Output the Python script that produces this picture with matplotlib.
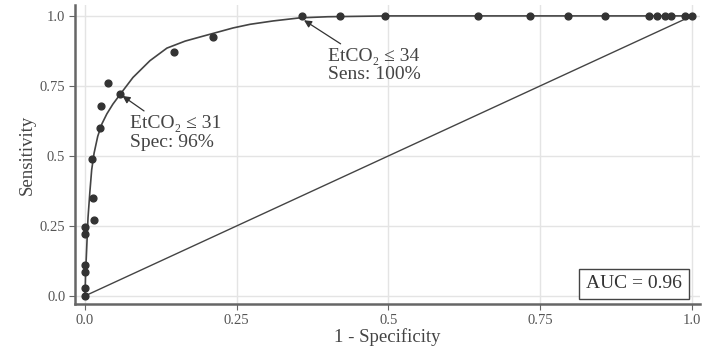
import matplotlib
matplotlib.use("Agg")
import matplotlib.pyplot as plt

plt.rcParams['font.family'] = ['Liberation Serif', 'DejaVu Serif']

# observed operating points (1 - specificity, sensitivity)
fpr_pts = [0.0, 0.0, 0.0, 0.0, 0.0, 0.0, 0.015, 0.013, 0.012, 0.025, 0.026,
           0.038, 0.058, 0.147, 0.211, 0.357, 0.42, 0.494, 0.647, 0.733,
           0.796, 0.857, 0.93, 0.942, 0.955, 0.965, 0.988, 1.0]
tpr_pts = [0.0, 0.03, 0.085, 0.11, 0.22, 0.245, 0.27, 0.35, 0.49, 0.60, 0.68,
           0.76, 0.72, 0.87, 0.925, 1.0, 1.0, 1.0, 1.0, 1.0,
           1.0, 1.0, 1.0, 1.0, 1.0, 1.0, 1.0, 1.0]

# smoothed ROC curve
curve_x = [0.0, 0.001, 0.003, 0.005, 0.008, 0.011, 0.015, 0.021, 0.028, 0.036,
           0.046, 0.058, 0.079, 0.107, 0.135, 0.165, 0.19, 0.244, 0.272,
           0.31, 0.354, 0.40, 0.5, 0.6, 0.8, 1.0]
curve_y = [0.0, 0.08, 0.18, 0.28, 0.37, 0.45, 0.51, 0.57, 0.615, 0.65,
           0.685, 0.72, 0.78, 0.84, 0.885, 0.91, 0.925, 0.957, 0.97,
           0.982, 0.993, 0.997, 1.0, 1.0, 1.0, 1.0]

ticks = [0.0, 0.25, 0.5, 0.75, 1.0]
tick_labels = ["0.0", "0.25", "0.5", "0.75", "1.0"]
auc = 0.96

fig = plt.figure(figsize=(7.04, 3.56), dpi=100)
ax = fig.add_axes([0.1065, 0.146, 0.8875, 0.84])

ax.grid(True, color='#e4e4e4', linewidth=1.0)
ax.set_axisbelow(True)

ax.plot([0, 1], [0, 1], color='#444444', linewidth=1.0)
ax.plot(curve_x, curve_y, color='#444444', linewidth=1.2)
ax.scatter(fpr_pts, tpr_pts, s=24, color='#333333', zorder=3)

ax.set_xlim(-0.0165, 1.013)
ax.set_ylim(-0.029, 1.039)
ax.set_xticks(ticks)
ax.set_xticklabels(tick_labels)
ax.set_yticks(ticks)
ax.set_yticklabels(tick_labels)
ax.tick_params(labelsize=10.5, labelcolor='#555555', color='#666666',
               length=4, width=0.8, pad=3)

for side in ['top', 'right']:
    ax.spines[side].set_visible(False)
for side in ['left', 'bottom']:
    ax.spines[side].set_color('#666666')
    ax.spines[side].set_linewidth(1.8)

ax.set_xlabel("1 - Specificity", fontsize=13.5, color='#444444', labelpad=1)
ax.set_ylabel("Sensitivity", fontsize=13.5, color='#444444', labelpad=3)

arrow = dict(arrowstyle='-|>', color='#333333', lw=0.9, mutation_scale=11)
ax.annotate("EtCO\u2082 \u2264 31\nSpec: 96%", xy=(0.058, 0.72), xytext=(0.074, 0.645),
            fontsize=14, color='#444444', va='top', ha='left', linespacing=1.1,
            arrowprops=arrow)
ax.annotate("EtCO\u2082 \u2264 34\nSens: 100%", xy=(0.357, 0.99), xytext=(0.400, 0.885),
            fontsize=14, color='#444444', va='top', ha='left', linespacing=1.05,
            arrowprops=arrow)

ax.text(0.905, 0.043, "AUC = %.2f" % auc, fontsize=14, color='#333333',
        ha='center', va='center',
        bbox=dict(boxstyle='square,pad=0.35', facecolor='white',
                  edgecolor='#444444', linewidth=1.0))

fig.savefig("out.png", dpi=100)
